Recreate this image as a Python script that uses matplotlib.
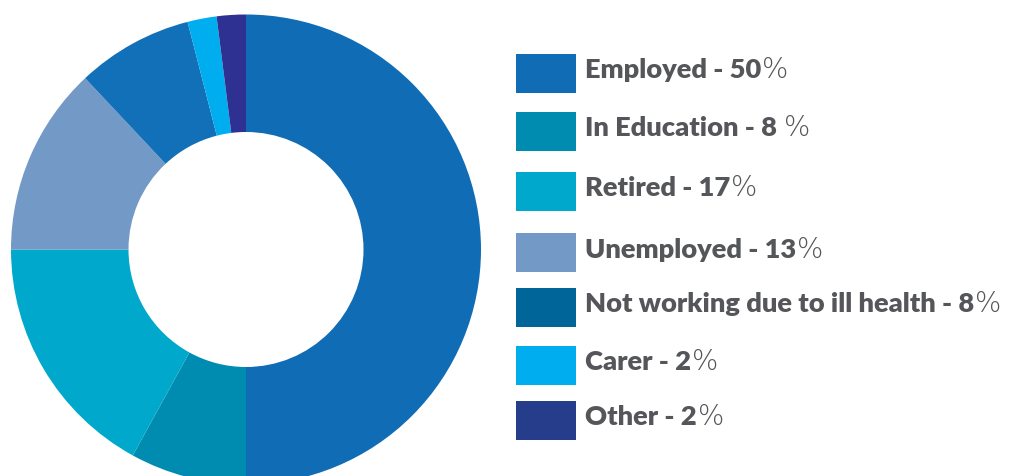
import matplotlib
matplotlib.use("Agg")
import matplotlib.pyplot as plt
from matplotlib.patches import Rectangle

# Employment status breakdown (percent)
categories = ["Employed", "In Education", "Retired", "Unemployed",
              "Not working due to ill health", "Carer", "Other"]
shares = [50, 8, 17, 13, 8, 2, 2]
# gap between the number and the % sign, as printed in the key
pct_gap = ["", " ", "", "", "", "", ""]

slice_colors = ["#106cb5", "#008bb0", "#00a9cb", "#7399c6", "#1170b8", "#00aeef", "#2e3192"]
key_colors = ["#106cb5", "#008bb0", "#00a9cb", "#7399c6", "#006699", "#00aeef", "#263d8c"]

TEXT_COLOR = "#55565a"

W, H = 1016, 477
fig = plt.figure(figsize=(W / 100, H / 100), dpi=100)
ax = fig.add_axes([0, 0, 1, 1])

ax.pie(shares, colors=slice_colors, startangle=90, counterclock=False,
       radius=235, center=(246, H - 250.5),
       wedgeprops=dict(width=117.5, edgecolor="none", linewidth=0))

ax.set_xlim(0, W)
ax.set_ylim(0, H)
ax.set_aspect("equal")
ax.axis("off")

# key on the right: swatch + bold label + light % sign
swatch_x, swatch_w, swatch_h = 516, 60, 39
row_tops = [55, 113, 173, 234, 289, 347, 402]
text_x = 585

fig.canvas.draw()
renderer = fig.canvas.get_renderer()
for name, val, gap, color, top in zip(categories, shares, pct_gap, key_colors, row_tops):
    ax.add_patch(Rectangle((swatch_x, H - top - swatch_h), swatch_w, swatch_h,
                           facecolor=color, edgecolor="none"))
    label = ax.text(text_x, H - top - 23.5, f"{name} - {val}{gap}",
                    family="Lato", weight="heavy", fontsize=19.6, color=TEXT_COLOR,
                    va="baseline", ha="left")
    bb = label.get_window_extent(renderer)
    x_end = ax.transData.inverted().transform((bb.x1, bb.y0))[0]
    ax.text(x_end + 1, H - top - 23.5, "%", family="DejaVu Sans", weight="ultralight",
            fontsize=20, color=TEXT_COLOR, va="baseline", ha="left")

fig.savefig("out.png", dpi=100)
